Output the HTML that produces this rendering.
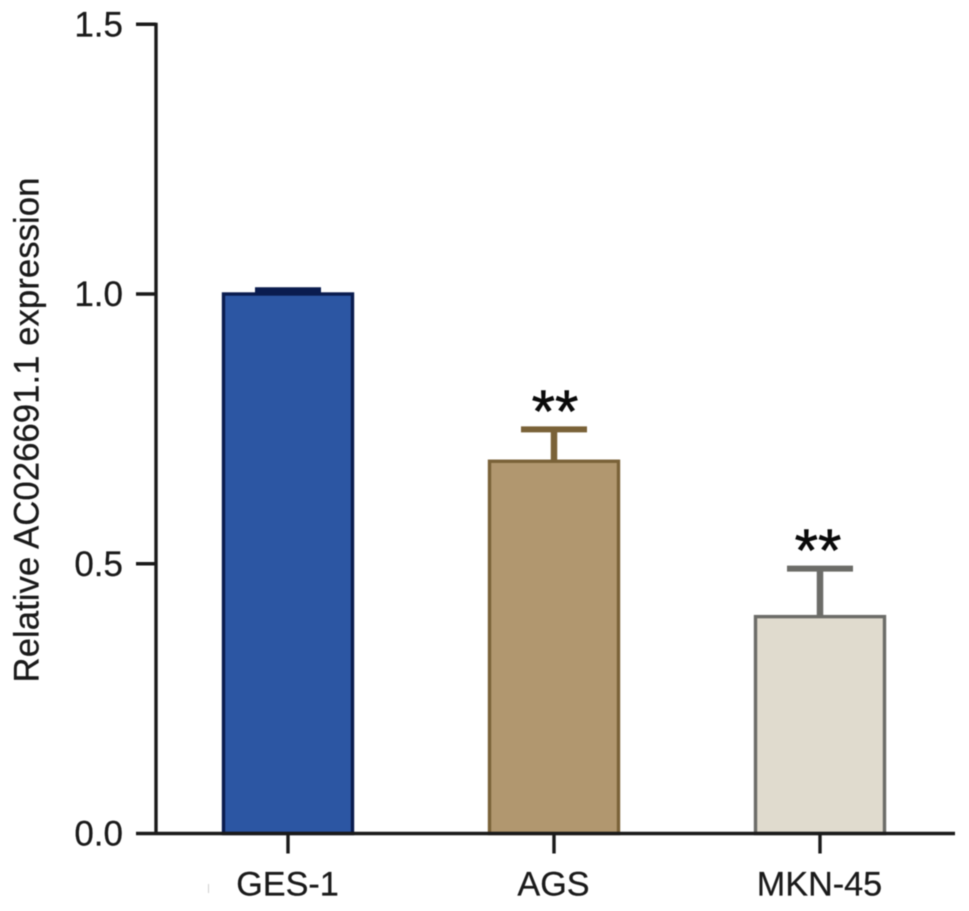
<!DOCTYPE html>
<html>
<head>
<meta charset="utf-8">
<style>
html,body{margin:0;padding:0;background:#fff;width:969px;height:911px;overflow:hidden}
svg{display:block;filter:blur(0.6px)}
text{font-family:"Liberation Sans",sans-serif;fill:#1a1a1a;stroke:#1a1a1a;stroke-width:0.25px}
</style>
</head>
<body>
<svg id="chart" xmlns="http://www.w3.org/2000/svg" width="969" height="911" viewBox="0 0 969 911"></svg>
<script>
const categories = ['GES-1', 'AGS', 'MKN-45'];
const values = [1.0, 0.69, 0.402];
const errors = [0.007, 0.059, 0.089];
const yTicks = ['0.0', '0.5', '1.0', '1.5'];
const significance = ['', '**', '**'];
const fills = ['#2c56a3', '#b1976f', '#e0dbce'];
const strokes = ['#0a1c4f', '#7a6238', '#6c6c68'];

const svg = document.getElementById('chart');
const NS = 'http://www.w3.org/2000/svg';
const y0 = 833.5, yPerUnit = 539.5, x0 = 156, band = 266, firstCenter = 288, barW = 129;
const yScale = v => y0 - v * yPerUnit;
const xScale = i => firstCenter + i * band;

function add(tag, attrs, text) {
  const el = document.createElementNS(NS, tag);
  for (const k in attrs) el.setAttribute(k, attrs[k]);
  if (text !== undefined) el.textContent = text;
  svg.appendChild(el);
  return el;
}

categories.forEach((c, i) => {
  const cx = xScale(i);
  const top = yScale(values[i]);
  const capY = yScale(values[i] + errors[i]);
  const errLine = add('line', {x1: cx, x2: cx, y1: top, y2: capY, stroke: strokes[i], 'stroke-width': 6.5});
  
  
  const cap = add('line', {x1: cx - 33, x2: cx + 33, y1: capY, y2: capY, stroke: strokes[i], 'stroke-width': 6});
  
  
  const bar = add('rect', {x: cx - barW / 2, y: top, width: barW, height: y0 - top, fill: fills[i], stroke: strokes[i], 'stroke-width': 3.4});
  
  
  if (significance[i]) {
    const star = add('text', {x: cx + 1 - 3 * (i - 1), y: capY + 2.5, 'text-anchor': 'middle', 'font-size': 60, style: 'fill:#0a0a0a;stroke:#0a0a0a;stroke-width:0.6px'}, significance[i]);
    
    
  }
  const tick = add('line', {x1: cx, x2: cx, y1: y0, y2: y0 + 20, stroke: '#1a1a1a', 'stroke-width': 3.4});
  
  
  const label = add('text', {x: cx - 0.5, y: 895.5, 'text-anchor': 'middle', 'font-size': 34.2}, c);
  
  
});

const yAxis = add('line', {x1: x0, x2: x0, y1: yScale(1.5) - 1.5, y2: y0 + 1.5, stroke: '#1a1a1a', 'stroke-width': 3.4});


const xAxis = add('line', {x1: x0, x2: 955, y1: y0, y2: y0, stroke: '#1a1a1a', 'stroke-width': 3.4});



yTicks.forEach(t => {
  const v = parseFloat(t);
  const y = yScale(v);
  const tick = add('line', {x1: x0 - 20, x2: x0, y1: y, y2: y, stroke: '#1a1a1a', 'stroke-width': 3.4});
  
  
  const label = add('text', {x: 123, y: y + 12, 'text-anchor': 'end', 'font-size': 35}, t);
  
  
});

const title = add('text', {x: 0, y: 0, 'text-anchor': 'middle', 'font-size': 34.8, transform: 'translate(38.5 430) rotate(-90)'}, 'Relative AC026691.1 expression');



const speck = add('line', {x1: 208.5, x2: 208.5, y1: 884, y2: 893, stroke: '#cfcfcf', 'stroke-width': 1});


</script>
</body>
</html>
